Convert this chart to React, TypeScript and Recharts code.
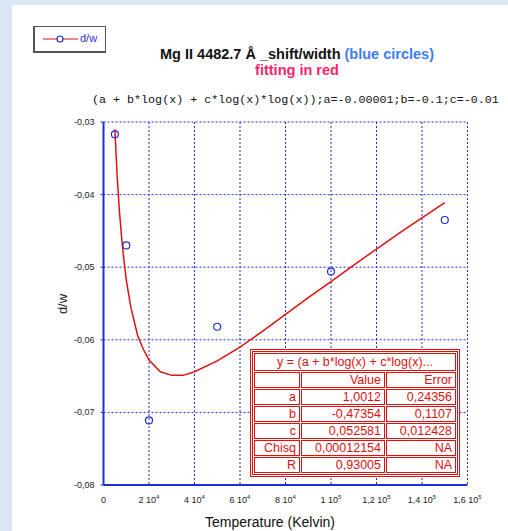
import React from 'react';
import { ComposedChart, XAxis, YAxis, CartesianGrid, Line, Scatter } from 'recharts';

// measured points (blue circles)
const tempK = [5000, 10000, 20000, 50000, 100000, 150000];
const dwValues = [-0.0317, -0.047, -0.0711, -0.0582, -0.0506, -0.0435];

// fitted curve (red)
const fitTemp = [5000, 6000, 7000, 8000, 9000, 10000, 12000, 15000, 17500, 20000, 25000, 30000, 35000, 40000, 50000, 60000, 70000, 80000, 90000, 100000, 110000, 120000, 130000, 140000, 150000];
const fitValues = [-0.031, -0.0374, -0.0423, -0.046, -0.0491, -0.0517, -0.0555, -0.0594, -0.0613, -0.0628, -0.0644, -0.0649, -0.0649, -0.0644, -0.0629, -0.061, -0.0588, -0.0565, -0.0542, -0.052, -0.0497, -0.0475, -0.0453, -0.0432, -0.0411];

const xTicks = [0, 20000, 40000, 60000, 80000, 100000, 120000, 140000, 160000];
const xTickMantissa = ['0', '2', '4', '6', '8', '1', '1,2', '1,4', '1,6'];
const xTickExponent = ['', '4', '4', '4', '4', '5', '5', '5', '5'];
const yTicks = [-0.08, -0.07, -0.06, -0.05, -0.04, -0.03];
const yTickLabels = ['-0,08', '-0,07', '-0,06', '-0,05', '-0,04', '-0,03'];

const tableHeader = 'y = (a + b*log(x) + c*log(x)...';
const tableNames = ['', 'a', 'b', 'c', 'Chisq', 'R'];
const tableValues = ['Value', '1,0012', '-0,47354', '0,052581', '0,00012154', '0,93005'];
const tableErrors = ['Error', '0,24356', '0,1107', '0,012428', 'NA', 'NA'];

const points = tempK.map((t, i) => ({ t, dw: dwValues[i] }));
const fit = fitTemp.map((t, i) => ({ t, dw: fitValues[i] }));

const BLUE = '#1f2fd6';
const RED = '#e01010';
const FONT = '"Liberation Sans", Arial, sans-serif';

const XTick = ({ x, y, payload }: any) => {
  const i = xTicks.indexOf(payload.value);
  return (
    <text x={x} y={y + 10} textAnchor="middle" fontSize={9} fill="#222" fontFamily={FONT}>
      <tspan>{xTickMantissa[i]}{xTickExponent[i] ? ' 10' : ''}</tspan>
      {xTickExponent[i] && <tspan dy={-4} fontSize={6}>{xTickExponent[i]}</tspan>}
    </text>
  );
};

const YTick = ({ x, y, payload }: any) => {
  const i = yTicks.indexOf(payload.value);
  return (
    <text x={x - 4} y={y + 3} textAnchor="end" fontSize={9} fill="#222" fontFamily={FONT}>
      {yTickLabels[i]}
    </text>
  );
};

const Circle = (props: any) => {
  const { cx, cy } = props;
  return <circle cx={cx} cy={cy} r={3.5} fill="none" stroke={BLUE} strokeWidth={1.2} />;
};

const cell: React.CSSProperties = {
  border: `1px solid ${RED}`,
  padding: '0 3px',
  textAlign: 'right',
  height: 14,
  lineHeight: '14px',
  boxSizing: 'border-box',
  whiteSpace: 'nowrap',
};

export default function App() {
  return (
    <div style={{ position: 'absolute', left: 0, top: 0, width: 508, height: 531, background: '#dbe7f5', overflow: 'hidden', fontFamily: FONT }}>
      <div style={{ position: 'absolute', left: 12, top: 5, width: 496, height: 526, background: '#fff' }} />

      {/* legend */}
      <div style={{ position: 'absolute', left: 33, top: 26, width: 70, height: 24, border: '1px solid #555', borderLeftWidth: 2, borderBottomWidth: 2, background: '#fff' }}>
        <svg width={44} height={24} style={{ position: 'absolute', left: 6, top: 0 }}>
          <line x1={2} y1={12} x2={37} y2={12} stroke={RED} strokeWidth={1} />
          <circle cx={19} cy={12} r={3} fill="#fff" stroke={BLUE} strokeWidth={1.2} />
        </svg>
        <span style={{ position: 'absolute', left: 45, top: 5, fontSize: 11, color: BLUE }}>d/w</span>
      </div>

      {/* titles */}
      <div style={{ position: 'absolute', left: 97, width: 400, top: 46, textAlign: 'center', fontSize: 14.5, fontWeight: 'bold', color: '#111', whiteSpace: 'nowrap' }}>
        Mg II 4482.7 Å _shift/width <span style={{ color: '#3b7df5' }}>(blue circles)</span>
      </div>
      <div style={{ position: 'absolute', left: 97, width: 400, top: 62, textAlign: 'center', fontSize: 14.5, fontWeight: 'bold', color: '#ff1f6b' }}>
        fitting in red
      </div>
      <div style={{ position: 'absolute', left: 92, top: 93, fontSize: 11.7, fontFamily: '"Liberation Mono", monospace', color: '#111', whiteSpace: 'nowrap' }}>
        (a + b*log(x) + c*log(x)*log(x));a=-0.00001;b=-0.1;c=-0.01
      </div>

      <div style={{ position: 'absolute', left: 0, top: 0 }}>
        <ComposedChart width={508} height={531} margin={{ top: 122, right: 40.5, bottom: 16, left: 58.5 }}>
          <CartesianGrid stroke={BLUE} strokeDasharray="2 2" strokeWidth={1} />
          <XAxis dataKey="t" type="number" domain={[0, 160000]} ticks={xTicks} interval={0} height={30} tick={<XTick />} tickLine={false} axisLine={{ stroke: BLUE, strokeWidth: 2 }} allowDataOverflow />
          <XAxis xAxisId="top" orientation="top" dataKey="t" type="number" domain={[0, 160000]} ticks={xTicks} height={0} tick={false} tickLine={false} axisLine={{ stroke: BLUE, strokeWidth: 2 }} />
          <YAxis dataKey="dw" type="number" domain={[-0.08, -0.03]} ticks={yTicks} interval={0} width={45} tick={<YTick />} tickSize={3} tickLine={{ stroke: BLUE }} axisLine={{ stroke: BLUE, strokeWidth: 2 }} allowDataOverflow />
          <YAxis yAxisId="right" orientation="right" dataKey="dw" type="number" domain={[-0.08, -0.03]} ticks={yTicks} width={0} tick={false} tickLine={false} axisLine={{ stroke: BLUE, strokeWidth: 2 }} />
          <Line data={fit} dataKey="dw" type="linear" stroke={RED} strokeWidth={1.5} dot={false} activeDot={false} isAnimationActive={false} />
          <Scatter data={points} dataKey="dw" shape={<Circle />} isAnimationActive={false} />
        </ComposedChart>
      </div>

      {/* axis titles */}
      <div style={{ position: 'absolute', left: 0, width: 540, top: 514, textAlign: 'center', fontSize: 14, color: '#111' }}>
        Temperature (Kelvin)
      </div>
      <div style={{ position: 'absolute', left: 62, top: 304, transform: 'translate(-50%, -50%) rotate(-90deg)', fontSize: 13, color: '#111' }}>
        d/w
      </div>

      {/* fit results table */}
      <div style={{ position: 'absolute', left: 250, top: 349, width: 210, border: `3px double ${RED}`, background: '#fff', boxSizing: 'border-box' }}>
        <table style={{ borderCollapse: 'separate', borderSpacing: 1, width: '100%', tableLayout: 'fixed', fontSize: 12.5, color: RED, fontFamily: FONT }}>
          <colgroup>
            <col style={{ width: 46 }} />
            <col style={{ width: 84 }} />
            <col />
          </colgroup>
          <tbody>
            <tr>
              <td colSpan={3} style={{ ...cell, textAlign: 'center', height: 18, lineHeight: '16px' }}>{tableHeader}</td>
            </tr>
            {tableNames.map((n, i) => (
              <tr key={i}>
                <td style={cell}>{n}</td>
                <td style={cell}>{tableValues[i]}</td>
                <td style={cell}>{tableErrors[i]}</td>
              </tr>
            ))}
          </tbody>
        </table>
      </div>
    </div>
  );
}
